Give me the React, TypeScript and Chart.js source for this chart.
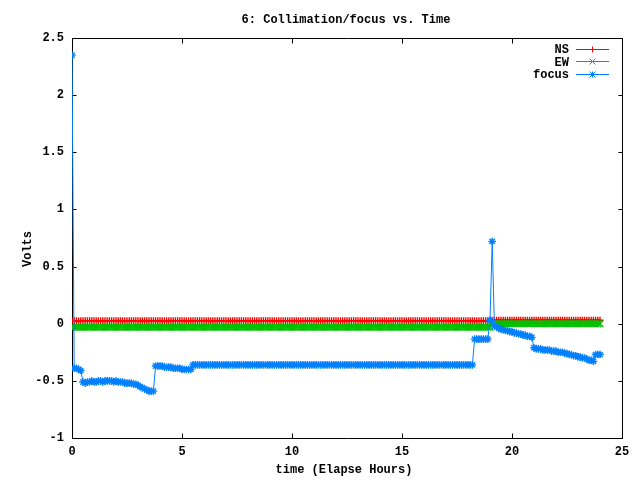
import React, { useEffect, useRef } from "react";
import { Chart, registerables } from "chart.js";

Chart.register(...registerables);

// Elapsed time of each sample (hours)
const hours = [
  0.0, 0.1, 0.2, 0.3, 0.4, 0.5, 0.6, 0.7, 0.8, 0.9,
  1.0, 1.1, 1.2, 1.3, 1.4, 1.5, 1.6, 1.7, 1.8, 1.9,
  2.0, 2.1, 2.2, 2.3, 2.4, 2.5, 2.6, 2.7, 2.8, 2.9,
  3.0, 3.1, 3.2, 3.3, 3.4, 3.5, 3.6, 3.7, 3.8, 3.9,
  4.0, 4.1, 4.2, 4.3, 4.4, 4.5, 4.6, 4.7, 4.8, 4.9,
  5.0, 5.1, 5.2, 5.3, 5.4, 5.5, 5.6, 5.7, 5.8, 5.9,
  6.0, 6.1, 6.2, 6.3, 6.4, 6.5, 6.6, 6.7, 6.8, 6.9,
  7.0, 7.1, 7.2, 7.3, 7.4, 7.5, 7.6, 7.7, 7.8, 7.9,
  8.0, 8.1, 8.2, 8.3, 8.4, 8.5, 8.6, 8.7, 8.8, 8.9,
  9.0, 9.1, 9.2, 9.3, 9.4, 9.5, 9.6, 9.7, 9.8, 9.9,
  10.0, 10.1, 10.2, 10.3, 10.4, 10.5, 10.6, 10.7, 10.8, 10.9,
  11.0, 11.1, 11.2, 11.3, 11.4, 11.5, 11.6, 11.7, 11.8, 11.9,
  12.0, 12.1, 12.2, 12.3, 12.4, 12.5, 12.6, 12.7, 12.8, 12.9,
  13.0, 13.1, 13.2, 13.3, 13.4, 13.5, 13.6, 13.7, 13.8, 13.9,
  14.0, 14.1, 14.2, 14.3, 14.4, 14.5, 14.6, 14.7, 14.8, 14.9,
  15.0, 15.1, 15.2, 15.3, 15.4, 15.5, 15.6, 15.7, 15.8, 15.9,
  16.0, 16.1, 16.2, 16.3, 16.4, 16.5, 16.6, 16.7, 16.8, 16.9,
  17.0, 17.1, 17.2, 17.3, 17.4, 17.5, 17.6, 17.7, 17.8, 17.9,
  18.0, 18.1, 18.2, 18.3, 18.4, 18.5, 18.6, 18.7, 18.8, 18.9,
  19.0, 19.1, 19.2, 19.3, 19.4, 19.5, 19.6, 19.7, 19.8, 19.9,
  20.0, 20.1, 20.2, 20.3, 20.4, 20.5, 20.6, 20.7, 20.8, 20.9,
  21.0, 21.1, 21.2, 21.3, 21.4, 21.5, 21.6, 21.7, 21.8, 21.9,
  22.0, 22.1, 22.2, 22.3, 22.4, 22.5, 22.6, 22.7, 22.8, 22.9,
  23.0, 23.1, 23.2, 23.3, 23.4, 23.5, 23.6, 23.7, 23.8, 23.9,
  24.0,
];

// NS collimation (Volts)
const nsVolts = [
  0.025, 0.025, 0.025, 0.025, 0.025, 0.025, 0.025, 0.025, 0.025, 0.025,
  0.025, 0.025, 0.025, 0.025, 0.025, 0.025, 0.025, 0.025, 0.025, 0.025,
  0.025, 0.025, 0.025, 0.025, 0.025, 0.025, 0.025, 0.025, 0.025, 0.025,
  0.025, 0.025, 0.025, 0.025, 0.025, 0.025, 0.025, 0.025, 0.025, 0.025,
  0.025, 0.025, 0.025, 0.025, 0.025, 0.025, 0.025, 0.025, 0.025, 0.025,
  0.025, 0.025, 0.025, 0.025, 0.025, 0.025, 0.025, 0.025, 0.025, 0.025,
  0.025, 0.025, 0.025, 0.025, 0.025, 0.025, 0.025, 0.025, 0.025, 0.025,
  0.025, 0.025, 0.025, 0.025, 0.025, 0.025, 0.025, 0.025, 0.025, 0.025,
  0.025, 0.025, 0.025, 0.025, 0.025, 0.025, 0.025, 0.025, 0.025, 0.025,
  0.025, 0.025, 0.025, 0.025, 0.025, 0.025, 0.025, 0.025, 0.025, 0.025,
  0.025, 0.025, 0.025, 0.025, 0.025, 0.025, 0.025, 0.025, 0.025, 0.025,
  0.025, 0.025, 0.025, 0.025, 0.025, 0.025, 0.025, 0.025, 0.025, 0.025,
  0.025, 0.025, 0.025, 0.025, 0.025, 0.025, 0.025, 0.025, 0.025, 0.025,
  0.025, 0.025, 0.025, 0.025, 0.025, 0.025, 0.025, 0.025, 0.025, 0.025,
  0.025, 0.025, 0.025, 0.025, 0.025, 0.025, 0.025, 0.025, 0.025, 0.025,
  0.025, 0.025, 0.025, 0.025, 0.025, 0.025, 0.025, 0.025, 0.025, 0.025,
  0.025, 0.025, 0.025, 0.025, 0.025, 0.025, 0.025, 0.025, 0.025, 0.025,
  0.025, 0.025, 0.025, 0.025, 0.025, 0.025, 0.025, 0.025, 0.025, 0.025,
  0.025, 0.025, 0.025, 0.025, 0.025, 0.025, 0.025, 0.025, 0.025, 0.025,
  0.025, 0.03, 0.03, 0.03, 0.03, 0.03, 0.03, 0.03, 0.03, 0.03,
  0.03, 0.03, 0.03, 0.03, 0.03, 0.03, 0.03, 0.03, 0.03, 0.03,
  0.03, 0.03, 0.03, 0.03, 0.03, 0.03, 0.03, 0.03, 0.03, 0.03,
  0.03, 0.03, 0.03, 0.03, 0.03, 0.03, 0.03, 0.03, 0.03, 0.03,
  0.03, 0.03, 0.03, 0.03, 0.03, 0.03, 0.03, 0.03, 0.03, 0.03,
  0.03,
];

// EW collimation (Volts)
const ewVolts = [
  -0.03, -0.03, -0.03, -0.03, -0.03, -0.03, -0.03, -0.03, -0.03, -0.03,
  -0.03, -0.03, -0.03, -0.03, -0.03, -0.03, -0.03, -0.03, -0.03, -0.03,
  -0.03, -0.03, -0.03, -0.03, -0.03, -0.03, -0.03, -0.03, -0.03, -0.03,
  -0.03, -0.03, -0.03, -0.03, -0.03, -0.03, -0.03, -0.03, -0.03, -0.03,
  -0.03, -0.03, -0.03, -0.03, -0.03, -0.03, -0.03, -0.03, -0.03, -0.03,
  -0.03, -0.03, -0.03, -0.03, -0.03, -0.03, -0.03, -0.03, -0.03, -0.03,
  -0.03, -0.03, -0.03, -0.03, -0.03, -0.03, -0.03, -0.03, -0.03, -0.03,
  -0.03, -0.03, -0.03, -0.03, -0.03, -0.03, -0.03, -0.03, -0.03, -0.03,
  -0.03, -0.03, -0.03, -0.03, -0.03, -0.03, -0.03, -0.03, -0.03, -0.03,
  -0.03, -0.03, -0.03, -0.03, -0.03, -0.03, -0.03, -0.03, -0.03, -0.03,
  -0.03, -0.03, -0.03, -0.03, -0.03, -0.03, -0.03, -0.03, -0.03, -0.03,
  -0.03, -0.03, -0.03, -0.03, -0.03, -0.03, -0.03, -0.03, -0.03, -0.03,
  -0.03, -0.03, -0.03, -0.03, -0.03, -0.03, -0.03, -0.03, -0.03, -0.03,
  -0.03, -0.03, -0.03, -0.03, -0.03, -0.03, -0.03, -0.03, -0.03, -0.03,
  -0.03, -0.03, -0.03, -0.03, -0.03, -0.03, -0.03, -0.03, -0.03, -0.03,
  -0.03, -0.03, -0.03, -0.03, -0.03, -0.03, -0.03, -0.03, -0.03, -0.03,
  -0.03, -0.03, -0.03, -0.03, -0.03, -0.03, -0.03, -0.03, -0.03, -0.03,
  -0.03, -0.03, -0.03, -0.03, -0.03, -0.03, -0.03, -0.03, -0.03, -0.03,
  -0.03, -0.03, -0.03, -0.03, -0.03, -0.03, -0.03, -0.03, -0.03, -0.03,
  -0.03, 0.0, 0.0, 0.0, 0.0, 0.0, 0.0, 0.0, 0.0, 0.0,
  0.0, 0.0, 0.0, 0.0, 0.0, 0.0, 0.0, 0.0, 0.0, 0.0,
  0.0, 0.0, 0.0, 0.0, 0.0, 0.0, 0.0, 0.0, 0.0, 0.0,
  0.0, 0.0, 0.0, 0.0, 0.0, 0.0, 0.0, 0.0, 0.0, 0.0,
  0.0, 0.0, 0.0, 0.0, 0.0, 0.0, 0.0, 0.0, 0.0, 0.0,
  0.0,
];

// focus (Volts)
const focusVolts = [
  2.35, -0.39, -0.39, -0.40, -0.41, -0.51, -0.52, -0.51, -0.51, -0.50,
  -0.51, -0.51, -0.50, -0.50, -0.51, -0.50, -0.50, -0.50, -0.50, -0.51,
  -0.50, -0.51, -0.51, -0.51, -0.52, -0.52, -0.52, -0.52, -0.53, -0.53,
  -0.54, -0.55, -0.56, -0.57, -0.58, -0.59, -0.59, -0.59, -0.37, -0.37,
  -0.37, -0.37, -0.38, -0.38, -0.38, -0.38, -0.39, -0.39, -0.39, -0.39,
  -0.40, -0.40, -0.40, -0.40, -0.40, -0.36, -0.36, -0.36, -0.36, -0.36,
  -0.36, -0.36, -0.36, -0.36, -0.36, -0.36, -0.36, -0.36, -0.36, -0.36,
  -0.36, -0.36, -0.36, -0.36, -0.36, -0.36, -0.36, -0.36, -0.36, -0.36,
  -0.36, -0.36, -0.36, -0.36, -0.36, -0.36, -0.36, -0.36, -0.36, -0.36,
  -0.36, -0.36, -0.36, -0.36, -0.36, -0.36, -0.36, -0.36, -0.36, -0.36,
  -0.36, -0.36, -0.36, -0.36, -0.36, -0.36, -0.36, -0.36, -0.36, -0.36,
  -0.36, -0.36, -0.36, -0.36, -0.36, -0.36, -0.36, -0.36, -0.36, -0.36,
  -0.36, -0.36, -0.36, -0.36, -0.36, -0.36, -0.36, -0.36, -0.36, -0.36,
  -0.36, -0.36, -0.36, -0.36, -0.36, -0.36, -0.36, -0.36, -0.36, -0.36,
  -0.36, -0.36, -0.36, -0.36, -0.36, -0.36, -0.36, -0.36, -0.36, -0.36,
  -0.36, -0.36, -0.36, -0.36, -0.36, -0.36, -0.36, -0.36, -0.36, -0.36,
  -0.36, -0.36, -0.36, -0.36, -0.36, -0.36, -0.36, -0.36, -0.36, -0.36,
  -0.36, -0.36, -0.36, -0.36, -0.36, -0.36, -0.36, -0.36, -0.36, -0.36,
  -0.36, -0.36, -0.36, -0.135, -0.135, -0.135, -0.135, -0.135, -0.135, -0.135,
  0.03, 0.72, -0.02, -0.03, -0.04, -0.05, -0.05, -0.06, -0.06, -0.07,
  -0.07, -0.08, -0.08, -0.09, -0.09, -0.10, -0.10, -0.11, -0.11, -0.12,
  -0.21, -0.22, -0.22, -0.22, -0.23, -0.23, -0.23, -0.23, -0.24, -0.24,
  -0.24, -0.25, -0.25, -0.25, -0.26, -0.26, -0.27, -0.27, -0.28, -0.28,
  -0.29, -0.29, -0.30, -0.30, -0.31, -0.32, -0.32, -0.33, -0.27, -0.27,
  -0.27,
];

const seriesNames = ["NS", "EW", "focus"];
const seriesColors = ["#ff0000", "#00c000", "#0080ff"];
const seriesMarkers = ["cross", "crossRot", "star"];

const titleText = "6: Collimation/focus vs. Time";
const xTitle = "time (Elapse Hours)";
const yTitle = "Volts";

const FAMILY = '"Liberation Mono", "DejaVu Sans Mono", monospace';
const FONT = `bold 12px ${FAMILY}`;

function drawMarker(ctx: CanvasRenderingContext2D, kind: string, x: number, y: number, r: number) {
  ctx.beginPath();
  if (kind === "cross" || kind === "star") {
    ctx.moveTo(x - r, y);
    ctx.lineTo(x + r, y);
    ctx.moveTo(x, y - r);
    ctx.lineTo(x, y + r);
  }
  if (kind === "crossRot" || kind === "star") {
    ctx.moveTo(x - r, y - r);
    ctx.lineTo(x + r, y + r);
    ctx.moveTo(x - r, y + r);
    ctx.lineTo(x + r, y - r);
  }
  ctx.stroke();
}

export default function App() {
  const ref = useRef<HTMLCanvasElement | null>(null);

  useEffect(() => {
    document.body.style.margin = "0";
    const canvas = ref.current;
    if (!canvas) return;

    const toPoints = (vals: number[]) => hours.map((h, i) => ({ x: h, y: vals[i] }));
    const seriesValues = [nsVolts, ewVolts, focusVolts];
    const radii = [3.5, 4.6, 3.8];

    const gnuplotPlugin = {
      id: "gnuplotLook",
      beforeDatasetsDraw(chart: any) {
        const { ctx, chartArea } = chart;
        const { left, right, top, bottom } = chartArea;
        const xs = chart.scales.x;
        const ys = chart.scales.y;
        ctx.save();
        ctx.strokeStyle = "#000";
        ctx.lineWidth = 1;
        ctx.beginPath();
        ctx.rect(left + 0.5, top + 0.5, right - left, bottom - top);
        ctx.stroke();
        ctx.beginPath();
        xs.ticks.forEach((t: any) => {
          const px = Math.round(xs.getPixelForValue(t.value)) + 0.5;
          ctx.moveTo(px, bottom + 0.5);
          ctx.lineTo(px, bottom - 4.5);
          ctx.moveTo(px, top + 0.5);
          ctx.lineTo(px, top + 5.5);
        });
        ys.ticks.forEach((t: any) => {
          const py = Math.round(ys.getPixelForValue(t.value)) + 0.5;
          ctx.moveTo(left + 0.5, py);
          ctx.lineTo(left + 4.5, py);
          ctx.moveTo(right + 0.5, py);
          ctx.lineTo(right - 3.5, py);
        });
        ctx.stroke();
        ctx.restore();
      },
      afterDraw(chart: any) {
        const { ctx, chartArea } = chart;
        const cx = (chartArea.left + chartArea.right) / 2;
        ctx.save();
        ctx.fillStyle = "#000";
        ctx.font = FONT;
        ctx.textAlign = "center";
        ctx.textBaseline = "alphabetic";
        ctx.fillText(titleText, cx - 1, 23);
        ctx.fillText(xTitle, cx - 3, 473);
        ctx.save();
        ctx.translate(31, 249);
        ctx.rotate(-Math.PI / 2);
        ctx.fillText(yTitle, 0, 0);
        ctx.restore();

        // legend (top right, gnuplot style)
        for (let i = 0; i < seriesNames.length; i++) {
          const baseY = 53 + i * 12.5;
          const lineY = Math.round(48.5 + i * 12.6) + 0.5;
          ctx.textAlign = "right";
          ctx.fillStyle = "#000";
          ctx.fillText(seriesNames[i], 569, baseY);
          ctx.strokeStyle = seriesColors[i];
          ctx.lineWidth = 1;
          ctx.beginPath();
          ctx.moveTo(576, lineY);
          ctx.lineTo(609, lineY);
          ctx.stroke();
          drawMarker(ctx, seriesMarkers[i], 592.5, lineY, 3);
        }
        ctx.restore();
      },
    };

    const chart = new Chart(canvas, {
      type: "line",
      data: {
        datasets: seriesNames.map((name, i) => ({
          label: name,
          data: toPoints(seriesValues[i]),
          borderColor: seriesColors[i],
          backgroundColor: seriesColors[i],
          borderWidth: 1,
          pointStyle: seriesMarkers[i] as any,
          pointRadius: radii[i],
          pointBorderWidth: 1.4,
          pointBorderColor: seriesColors[i],
          pointHoverRadius: radii[i],
          fill: false,
          tension: 0,
          order: 3 - i,
        })),
      },
      options: {
        responsive: false,
        maintainAspectRatio: false,
        devicePixelRatio: 1,
        animation: false,
        events: [],
        layout: { padding: { top: 38, right: 18, left: 0, bottom: 0 } },
        plugins: {
          legend: { display: false },
          title: { display: false },
          tooltip: { enabled: false },
        },
        scales: {
          x: {
            type: "linear",
            min: 0,
            max: 25,
            grid: { display: false, drawTicks: false },
            border: { display: false },
            ticks: {
              stepSize: 5,
              color: "#000",
              padding: 7,
              maxRotation: 0,
              font: { family: FAMILY, size: 12, weight: "bold" },
              callback: (v: any) => String(Number(v)),
            },
            afterFit: (s: any) => {
              s.height = 42;
            },
          },
          y: {
            type: "linear",
            min: -1,
            max: 2.5,
            grid: { display: false, drawTicks: false },
            border: { display: false },
            ticks: {
              stepSize: 0.5,
              color: "#000",
              padding: 8,
              font: { family: FAMILY, size: 12, weight: "bold" },
              callback: (v: any) => String(Number(v)),
            },
            afterFit: (s: any) => {
              s.width = 72;
            },
          },
        },
      },
      plugins: [gnuplotPlugin],
    });

    return () => chart.destroy();
  }, []);

  return (
    <canvas
      ref={ref}
      width={640}
      height={480}
      style={{ display: "block", width: 640, height: 480 }}
    />
  );
}
